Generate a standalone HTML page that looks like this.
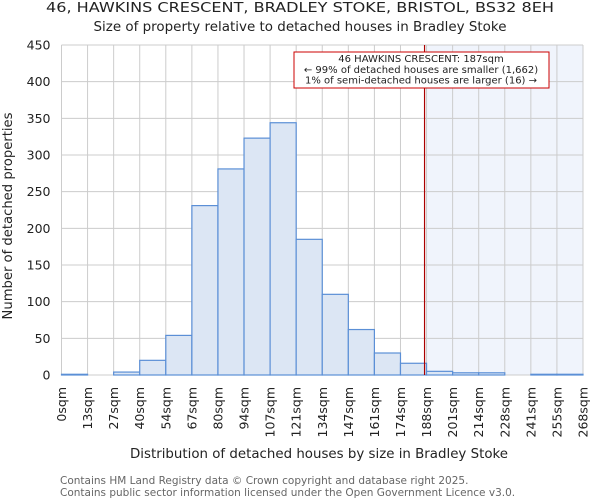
<!DOCTYPE html>
<html><head><meta charset="utf-8"><style>
body{margin:0;background:#fff;font-family:"DejaVu Sans","Liberation Sans",sans-serif}
</style></head><body>
<svg id="c" width="600" height="500" xmlns="http://www.w3.org/2000/svg" font-family="DejaVu Sans, Liberation Sans, sans-serif">
<text x="300" y="12" text-anchor="middle" font-size="13" textLength="508" lengthAdjust="spacingAndGlyphs" fill="#222">46, HAWKINS CRESCENT, BRADLEY STOKE, BRISTOL, BS32 8EH</text>
<text x="300" y="31" text-anchor="middle" font-size="13" textLength="413" lengthAdjust="spacingAndGlyphs" fill="#222">Size of property relative to detached houses in Bradley Stoke</text>
<g id="g"></g>
<text x="319" y="458" text-anchor="middle" font-size="13.5" textLength="378" lengthAdjust="spacingAndGlyphs" fill="#222">Distribution of detached houses by size in Bradley Stoke</text>
<text transform="translate(12,216) rotate(-90)" text-anchor="middle" font-size="13" textLength="207" lengthAdjust="spacingAndGlyphs" fill="#222">Number of detached properties</text>
<text x="60" y="484" font-size="10.5" fill="#666">Contains HM Land Registry data © Crown copyright and database right 2025.</text>
<text x="60" y="496" font-size="10.5" fill="#666">Contains public sector information licensed under the Open Government Licence v3.0.</text>
</svg>
<script>
const tickLabels=["0sqm","13sqm","27sqm","40sqm","54sqm","67sqm","80sqm","94sqm","107sqm","121sqm","134sqm","147sqm","161sqm","174sqm","188sqm","201sqm","214sqm","228sqm","241sqm","255sqm","268sqm"];
const counts=[1,0,4,20,54,231,281,323,344,185,110,62,30,16,5,3,3,0,1,1];
const yTicks=[0,50,100,150,200,250,300,350,400,450];
const markerBin=14;
const NS="http://www.w3.org/2000/svg";
const L=61.5,R=583,T=45,B=375,yMax=450;
const bw=(R-L)/counts.length;
const x=i=>L+i*bw, y=v=>B-(v/yMax)*(B-T);
const g=document.getElementById('g');
function mk(t,a){const e=document.createElementNS(NS,t);for(const k in a)e.setAttribute(k,a[k]);g.appendChild(e);return e;}
let e=mk('rect',{x:x(markerBin),y:T,width:R-x(markerBin),height:B-T,fill:'#f0f4fc'});


yTicks.forEach(v=>{
 let l=mk('line',{x1:L,x2:R,y1:y(v),y2:y(v),stroke:'#ccc','stroke-width':1});
 
 
 let t=mk('text',{x:L-11,y:y(v)+4.5,'text-anchor':'end','font-size':12.5,fill:'#222'});
 t.textContent=v;
 
 
});
tickLabels.forEach((s,i)=>{
 let l=mk('line',{x1:x(i),x2:x(i),y1:T,y2:B,stroke:'#ccc','stroke-width':1});
 
 
 let t=mk('text',{transform:`translate(${x(i)+4.5},${B+12}) rotate(-90)`,'text-anchor':'end','font-size':12.5,fill:'#222'});
 t.textContent=s;
 
 
});
counts.forEach((v,i)=>{
 if(v<=0)return;
 let r=mk('rect',{x:x(i),y:y(v),width:bw,height:B-y(v),fill:'#dce6f4',stroke:'#5b8fd6','stroke-width':1.2});
 
 
});
let m=mk('line',{x1:x(markerBin)-2,x2:x(markerBin)-2,y1:T,y2:B,stroke:'#a00','stroke-width':1.2});


let bx=mk('rect',{x:294,y:52,width:255,height:36,fill:'#fff',stroke:'#c00','stroke-width':1});


["46 HAWKINS CRESCENT: 187sqm","← 99% of detached houses are smaller (1,662)","1% of semi-detached houses are larger (16) →"].forEach((s,i)=>{
 let t=mk('text',{x:421,y:62+i*10.8,'text-anchor':'middle','font-size':10,fill:'#222'});
 t.textContent=s;
 
 
});
</script>
</body></html>
